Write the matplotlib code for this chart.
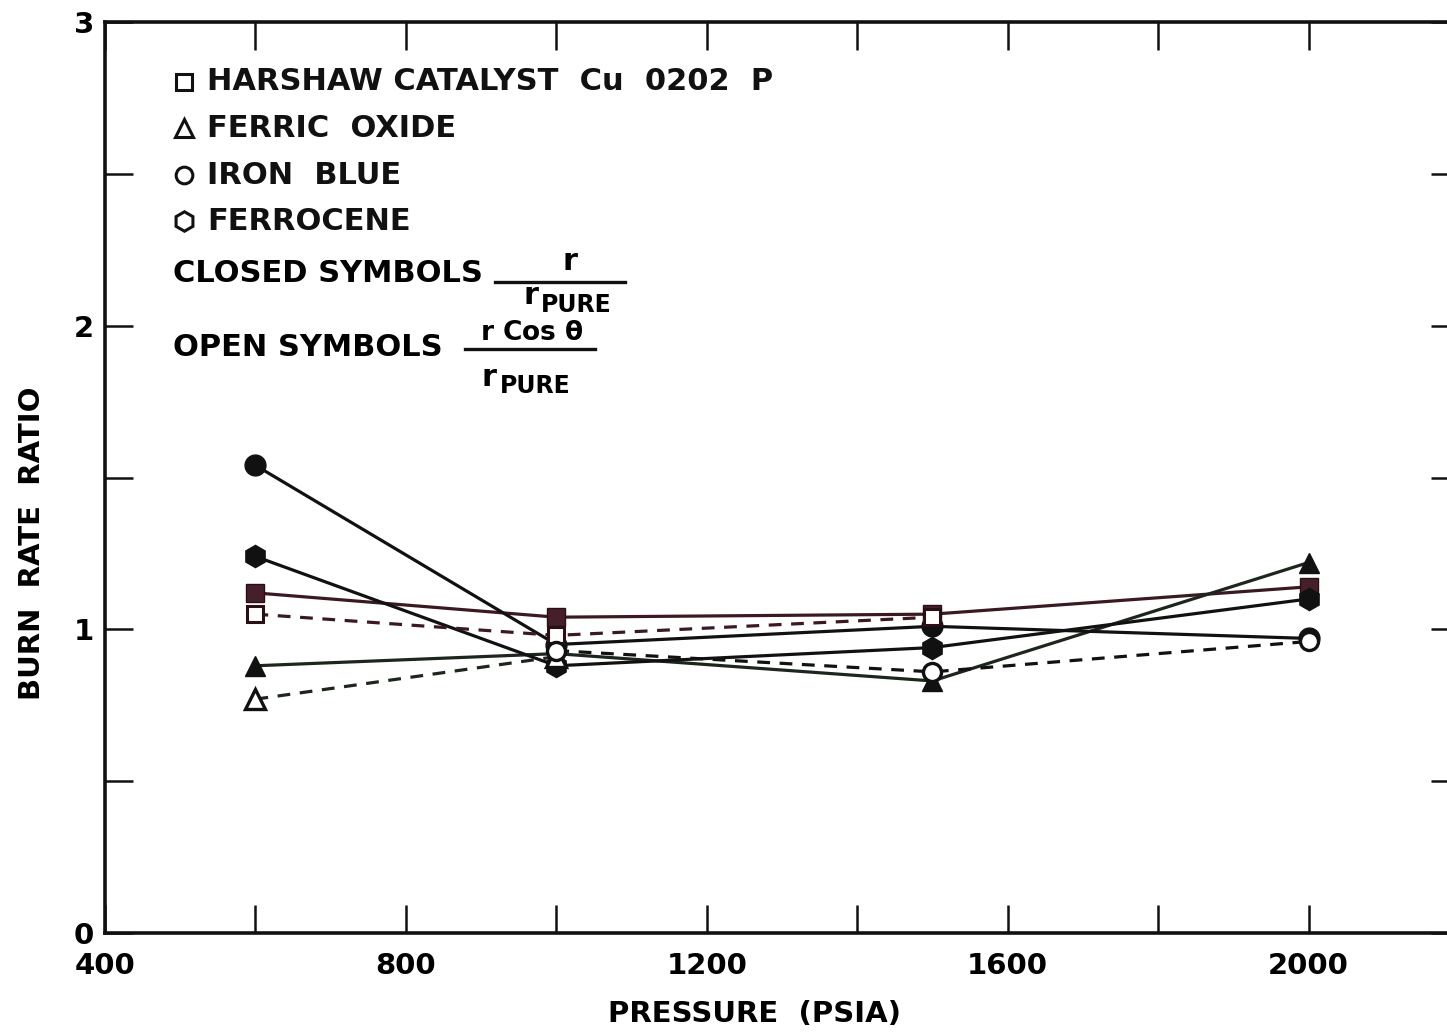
import numpy as np
import matplotlib
matplotlib.use("Agg")
import matplotlib.pyplot as plt
from matplotlib.lines import Line2D

# data
pressure = [600, 1000, 1500, 2000]
harshaw_closed = [1.12, 1.04, 1.05, 1.14]
harshaw_open_p = [600, 1000, 1500]
harshaw_open = [1.05, 0.98, 1.04]
ferric_closed = [0.88, 0.92, 0.83, 1.22]
ferric_open_p = [600, 1000]
ferric_open = [0.77, 0.91]
ironblue_closed = [1.54, 0.95, 1.01, 0.97]
ironblue_open_p = [1000, 1500, 2000]
ironblue_open = [0.93, 0.86, 0.96]
ferrocene_closed = [1.24, 0.88, 0.94, 1.10]

x_ticks = [400, 800, 1200, 1600, 2000]
y_ticks = [0, 1, 2, 3]

plt.rcParams['font.family'] = ['DejaVu Sans']
plt.rcParams['font.weight'] = 'bold'

W, H = 1447, 1033
fig = plt.figure(figsize=(W / 100, H / 100), dpi=100)
fig.patch.set_facecolor('white')

# axes spans pixel 105..1459 horizontally, 22..933 vertically (right spine just off the picture)
ax = fig.add_axes([105 / W, 1 - 933 / H, 1354 / W, 911 / H])
ax.set_xlim(400, 2200)
ax.set_ylim(0, 3)

BLK = '#111111'
MAR = '#3a1a20'
GRN = '#1c261c'
lw = 2.3

ax.plot(pressure, harshaw_closed, '-', color=MAR, lw=lw, marker='s', ms=13,
        mfc='#45202a', mec='#2a1015', zorder=3)
ax.plot(harshaw_open_p, harshaw_open, '--', color=MAR, lw=lw, dashes=(4, 3), marker='s', ms=12,
        mfc='white', mec='#2a1015', mew=2.2, zorder=4)
ax.plot(pressure, ferric_closed, '-', color=GRN, lw=lw, marker='^', ms=15,
        mfc=BLK, mec=BLK, zorder=3)
ax.plot(ferric_open_p, ferric_open, '--', color=GRN, lw=lw, dashes=(4, 3), marker='^', ms=14,
        mfc='white', mec=BLK, mew=2.4, zorder=4)
ax.plot(pressure, ironblue_closed, '-', color=BLK, lw=lw, marker='o', ms=15,
        mfc=BLK, mec=BLK, zorder=3)
ax.plot(ironblue_open_p, ironblue_open, '--', color=BLK, lw=lw, dashes=(4, 3), marker='o', ms=13,
        mfc='white', mec=BLK, mew=2.4, zorder=4)
ax.plot(pressure, ferrocene_closed, '-', color=BLK, lw=lw, marker='h', ms=16,
        mfc=BLK, mec=BLK, zorder=3)

# axes styling
for s in ax.spines.values():
    s.set_linewidth(2.6)
    s.set_color(BLK)
ax.set_xticks(np.arange(400, 2201, 200))
ax.set_xticklabels([str(v) if v in x_ticks else '' for v in range(400, 2201, 200)])
ax.set_yticks(np.arange(0, 3.01, 0.5))
ax.set_yticklabels([str(int(v)) if v in y_ticks else '' for v in np.arange(0, 3.01, 0.5)])
ax.tick_params(axis='both', direction='in', length=20, width=1.8, color=BLK,
               top=True, right=True, labelsize=21)
ax.tick_params(axis='x', pad=14)
ax.tick_params(axis='y', pad=8)

ax.set_xlabel('PRESSURE  (PSIA)', fontsize=21, fontweight='bold')
ax.set_ylabel('BURN  RATE  RATIO', fontsize=21, fontweight='bold')
ax.xaxis.set_label_coords(650 / 1354, -(1000 - 933) / 911)
ax.yaxis.set_label_coords(-(105 - 46) / 1354, (933 - 543) / 911)


def fp(x, y):
    return x / W, 1 - y / H


# legend keys
fs = 22
keys = [('s', 'HARSHAW CATALYST  Cu  0202  P', 82, 12),
        ('^', 'FERRIC  OXIDE', 128, 13),
        ('o', 'IRON  BLUE', 175, 12),
        ('h', 'FERROCENE', 221, 14)]
for mk, label, yy, ms in keys:
    fig.add_artist(Line2D([184 / W], [1 - yy / H], marker=mk, ms=ms, mfc='white',
                          mec=BLK, mew=2.2, transform=fig.transFigure))
    fig.text(*fp(207, yy), label, fontsize=fs, fontweight='bold', va='center', ha='left', color=BLK)

fig.text(*fp(173, 274), 'CLOSED SYMBOLS', fontsize=fs, fontweight='bold', va='center', ha='left')
fig.text(*fp(570, 262), 'r', fontsize=fs, fontweight='bold', va='center', ha='center')
fig.add_artist(Line2D([495 / W, 625 / W], [1 - 282 / H] * 2, lw=2.4, color=BLK,
                      transform=fig.transFigure))
fig.text(*fp(531, 295), 'r', fontsize=fs, fontweight='bold', va='center', ha='center')
fig.text(*fp(541, 305), 'PURE', fontsize=17, fontweight='bold', va='center', ha='left')

fig.text(*fp(173, 348), 'OPEN SYMBOLS', fontsize=fs, fontweight='bold', va='center', ha='left')
fig.text(*fp(532, 333), r'r Cos $\mathbf{\theta}$', fontsize=19, fontweight='bold',
         va='center', ha='center')
fig.text(*fp(489, 377), 'r', fontsize=fs, fontweight='bold', va='center', ha='center')
fig.add_artist(Line2D([465 / W, 595 / W], [1 - 349 / H] * 2, lw=2.4, color=BLK,
                      transform=fig.transFigure))
fig.text(*fp(500, 386), 'PURE', fontsize=17, fontweight='bold', va='center', ha='left')

fig.savefig('out.png', dpi=100, facecolor='white')
